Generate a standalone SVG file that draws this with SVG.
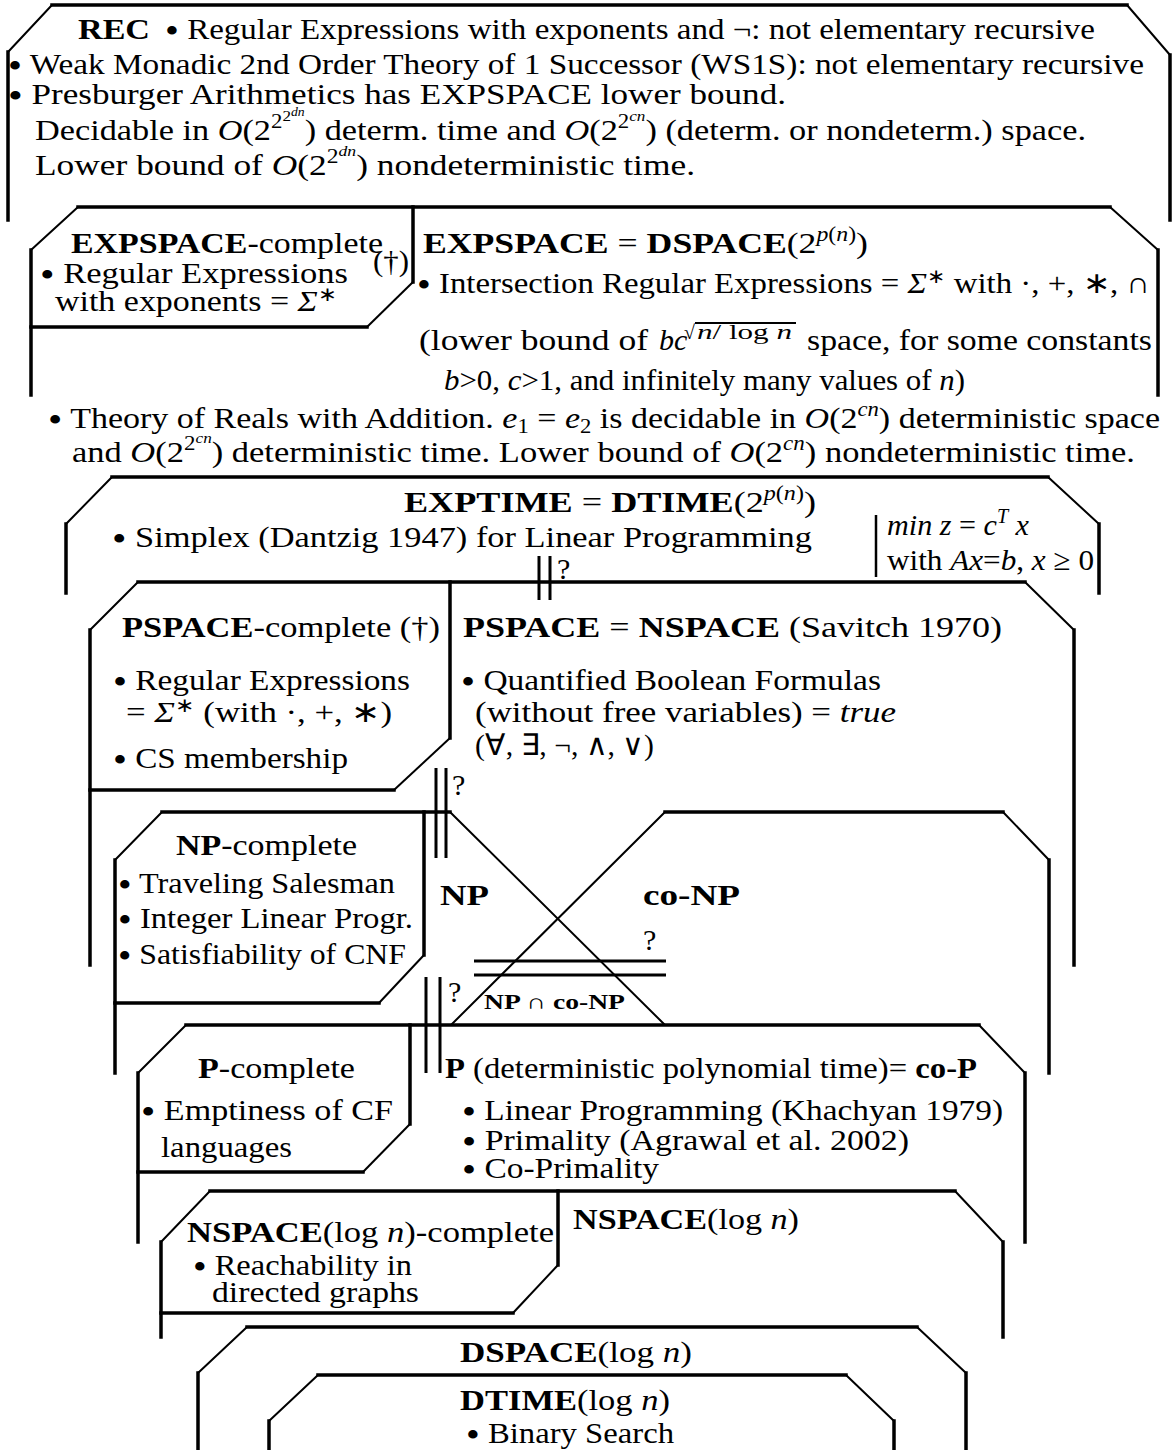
<svg xmlns="http://www.w3.org/2000/svg" width="1174" height="1450" viewBox="0 0 1174 1450">
<style>
text { font-family: "Liberation Serif", "Times New Roman", serif; font-size: 30px; fill: #000; }
.b { font-weight: bold; }
.i { font-style: italic; }
.bu { font-size: 36px; }
.sup { font-size: 20px; }
.sup2 { font-size: 15px; }
.sup3 { font-size: 12px; }
.sm { font-size: 21px; }
.edge { fill: none; stroke: #000; stroke-width: 3.5; stroke-linecap: square; }
.slant { fill: none; stroke: #000; stroke-width: 2; }
.bar { fill: none; stroke: #000; stroke-width: 2.5; }
.q { fill: none; stroke: #000; stroke-width: 3; }
</style>
<rect width="1174" height="1450" fill="#fff"/>

<!-- REC: recursive sets -->
<g id="rec">
  <path class="edge" d="M52,5 H1127 M8,52 V220 M1170,55 V220"/>
  <path class="slant" d="M52,5 L8,52 M1127,5 L1170,55"/>
  <text x="78" y="39" class="b" textLength="72" lengthAdjust="spacingAndGlyphs">REC</text>
  <text x="165" y="39" textLength="930" lengthAdjust="spacingAndGlyphs"><tspan class="bu" dy="4">•</tspan><tspan dy="-4"> Regular Expressions with exponents and ¬: not elementary recursive</tspan></text>
  <text x="8" y="74" textLength="1136" lengthAdjust="spacingAndGlyphs"><tspan class="bu" dy="4">•</tspan><tspan dy="-4"> Weak Monadic 2nd Order Theory of 1 Successor (WS1S): not elementary recursive</tspan></text>
  <text x="8" y="104" textLength="778" lengthAdjust="spacingAndGlyphs"><tspan class="bu" dy="4">•</tspan><tspan dy="-4"> Presburger Arithmetics has EXPSPACE lower bound.</tspan></text>
  <text x="35" y="140" textLength="1051" lengthAdjust="spacingAndGlyphs">Decidable in <tspan class="i">O</tspan>(2<tspan class="sup" dy="-12">2</tspan><tspan class="sup2" dy="-7">2</tspan><tspan class="sup3 i" dy="-5">dn</tspan><tspan dy="24">) determ. time and </tspan><tspan class="i">O</tspan>(2<tspan class="sup" dy="-12">2</tspan><tspan class="sup2 i" dy="-7">cn</tspan><tspan dy="19">) (determ. or nondeterm.) space.</tspan></text>
  <text x="35" y="175" textLength="660" lengthAdjust="spacingAndGlyphs">Lower bound of <tspan class="i">O</tspan>(2<tspan class="sup" dy="-12">2</tspan><tspan class="sup2 i" dy="-7">dn</tspan><tspan dy="19">) nondeterministic time.</tspan></text>
  <text x="48" y="428" textLength="1112" lengthAdjust="spacingAndGlyphs"><tspan class="bu" dy="4">•</tspan><tspan dy="-4"> Theory of Reals with Addition. </tspan><tspan class="i">e</tspan><tspan class="sup" dy="5">1</tspan><tspan dy="-5"> = </tspan><tspan class="i">e</tspan><tspan class="sup" dy="5">2</tspan><tspan dy="-5"> is decidable in </tspan><tspan class="i">O</tspan>(2<tspan class="sup i" dy="-12">cn</tspan><tspan dy="12">) deterministic space</tspan></text>
  <text x="72" y="462" textLength="1063" lengthAdjust="spacingAndGlyphs">and <tspan class="i">O</tspan>(2<tspan class="sup" dy="-12">2</tspan><tspan class="sup2 i" dy="-7">cn</tspan><tspan dy="19">) deterministic time. Lower bound of </tspan><tspan class="i">O</tspan>(2<tspan class="sup i" dy="-12">cn</tspan><tspan dy="12">) nondeterministic time.</tspan></text>
</g>

<!-- EXPSPACE -->
<g id="expspace">
  <path class="edge" d="M78,207 H1110 M31,250 V395 M1158,250 V395"/>
  <path class="slant" d="M78,207 L31,250 M1110,207 L1158,250"/>
  <text x="423" y="253" textLength="445" lengthAdjust="spacingAndGlyphs"><tspan class="b">EXPSPACE</tspan> = <tspan class="b">DSPACE</tspan>(2<tspan class="sup i" dy="-12">p</tspan><tspan class="sup">(</tspan><tspan class="sup i">n</tspan><tspan class="sup">)</tspan><tspan dy="12">)</tspan></text>
  <text x="417" y="293" textLength="733" lengthAdjust="spacingAndGlyphs"><tspan class="bu" dy="4">•</tspan><tspan dy="-4"> Intersection Regular Expressions = </tspan><tspan class="i">Σ</tspan><tspan class="sup" dy="-10">∗</tspan><tspan dy="10"> with ·, +, ∗, ∩</tspan></text>
  <text x="419" y="350" textLength="229" lengthAdjust="spacingAndGlyphs">(lower bound of</text>
  <text x="659" y="350" class="i">b</text>
  <text x="674" y="350" class="i">c</text>
  <text x="684" y="339" class="sup">√</text>
  <path class="slant" d="M695,323 H796" stroke-width="1.5"/>
  <text x="697" y="339" class="sup" textLength="95" lengthAdjust="spacingAndGlyphs"><tspan class="i">n</tspan>/ log <tspan class="i">n</tspan></text>
  <text x="807" y="350" textLength="345" lengthAdjust="spacingAndGlyphs">space, for some constants</text>
  <text x="444" y="390" textLength="521" lengthAdjust="spacingAndGlyphs"><tspan class="i">b</tspan>&gt;0, <tspan class="i">c</tspan>&gt;1, and infinitely many values of <tspan class="i">n</tspan>)</text>
</g>

<!-- EXPSPACE-complete -->
<g id="expspace-complete">
  <path class="edge" d="M413,207 V282 M367,327 H31"/>
  <path class="slant" d="M413,282 L367,327"/>
  <text x="71" y="253" textLength="312" lengthAdjust="spacingAndGlyphs"><tspan class="b">EXPSPACE</tspan>-complete</text>
  <text x="373" y="271" textLength="36" lengthAdjust="spacingAndGlyphs">(†)</text>
  <text x="40" y="283" textLength="308" lengthAdjust="spacingAndGlyphs"><tspan class="bu" dy="4">•</tspan><tspan dy="-4"> Regular Expressions</tspan></text>
  <text x="55" y="311" textLength="282" lengthAdjust="spacingAndGlyphs">with exponents = <tspan class="i">Σ</tspan><tspan class="sup" dy="-10">∗</tspan></text>
</g>

<!-- EXPTIME -->
<g id="exptime">
  <path class="edge" d="M112,477 H1048 M66,524 V593 M1099,524 V593"/>
  <path class="slant" d="M112,477 L66,524 M1048,477 L1099,524"/>
  <path class="bar" d="M876,515 V577"/>
  <text x="404" y="512" textLength="412" lengthAdjust="spacingAndGlyphs"><tspan class="b">EXPTIME</tspan> = <tspan class="b">DTIME</tspan>(2<tspan class="sup i" dy="-12">p</tspan><tspan class="sup">(</tspan><tspan class="sup i">n</tspan><tspan class="sup">)</tspan><tspan dy="12">)</tspan></text>
  <text x="112" y="547" textLength="700" lengthAdjust="spacingAndGlyphs"><tspan class="bu" dy="4">•</tspan><tspan dy="-4"> Simplex (Dantzig 1947) for Linear Programming</tspan></text>
  <text x="887" y="535" textLength="142" lengthAdjust="spacingAndGlyphs"><tspan class="i">min z</tspan> = <tspan class="i">c</tspan><tspan class="sup i" dy="-12">T</tspan><tspan class="i" dy="12"> x</tspan></text>
  <text x="887" y="570" textLength="207" lengthAdjust="spacingAndGlyphs">with <tspan class="i">Ax</tspan>=<tspan class="i">b</tspan>, <tspan class="i">x</tspan> ≥ 0</text>
</g>

<!-- PSPACE -->
<g id="pspace">
  <path class="edge" d="M138,582 H1025 M90,630 V965 M1074,630 V965"/>
  <path class="slant" d="M138,582 L90,630 M1025,582 L1074,630"/>
  <text x="463" y="637" textLength="539" lengthAdjust="spacingAndGlyphs"><tspan class="b">PSPACE</tspan> = <tspan class="b">NSPACE</tspan> (Savitch 1970)</text>
  <text x="461" y="690" textLength="420" lengthAdjust="spacingAndGlyphs"><tspan class="bu" dy="4">•</tspan><tspan dy="-4"> Quantified Boolean Formulas</tspan></text>
  <text x="475" y="722" textLength="421" lengthAdjust="spacingAndGlyphs">(without free variables) = <tspan class="i">true</tspan></text>
  <text x="475" y="755" textLength="179" lengthAdjust="spacingAndGlyphs">(∀, ∃, ¬, ∧, ∨)</text>
</g>

<!-- PSPACE-complete -->
<g id="pspace-complete">
  <path class="edge" d="M450,582 V738 M394,790 H90"/>
  <path class="slant" d="M450,738 L394,790"/>
  <text x="122" y="637" textLength="318" lengthAdjust="spacingAndGlyphs"><tspan class="b">PSPACE</tspan>-complete (†)</text>
  <text x="113" y="690" textLength="297" lengthAdjust="spacingAndGlyphs"><tspan class="bu" dy="4">•</tspan><tspan dy="-4"> Regular Expressions</tspan></text>
  <text x="126" y="722" textLength="266" lengthAdjust="spacingAndGlyphs">= <tspan class="i">Σ</tspan><tspan class="sup" dy="-10">∗</tspan><tspan dy="10"> (with ·, +, ∗)</tspan></text>
  <text x="113" y="768" textLength="235" lengthAdjust="spacingAndGlyphs"><tspan class="bu" dy="4">•</tspan><tspan dy="-4"> CS membership</tspan></text>
</g>

<!-- NP -->
<g id="np">
  <path class="edge" d="M162,812 H450 M115,860 V1073"/>
  <path class="slant" d="M162,812 L115,860 M450,812 L665,1025"/>
  <text x="440" y="905" class="b" textLength="49" lengthAdjust="spacingAndGlyphs">NP</text>
</g>

<!-- NP-complete -->
<g id="np-complete">
  <path class="edge" d="M424,812 V955 M379,1003 H115"/>
  <path class="slant" d="M424,955 L379,1003"/>
  <text x="176" y="855" textLength="181" lengthAdjust="spacingAndGlyphs"><tspan class="b">NP</tspan>-complete</text>
  <text x="118" y="893" textLength="277" lengthAdjust="spacingAndGlyphs"><tspan class="bu" dy="4">•</tspan><tspan dy="-4"> Traveling Salesman</tspan></text>
  <text x="118" y="928" textLength="295" lengthAdjust="spacingAndGlyphs"><tspan class="bu" dy="4">•</tspan><tspan dy="-4"> Integer Linear Progr.</tspan></text>
  <text x="118" y="964" textLength="288" lengthAdjust="spacingAndGlyphs"><tspan class="bu" dy="4">•</tspan><tspan dy="-4"> Satisfiability of CNF</tspan></text>
</g>

<!-- co-NP -->
<g id="conp">
  <path class="edge" d="M665,812 H1003 M1049,860 V1073"/>
  <path class="slant" d="M665,812 L451,1025 M1003,812 L1049,860"/>
  <text x="643" y="905" class="b" textLength="97" lengthAdjust="spacingAndGlyphs">co-NP</text>
</g>

<!-- NP ∩ co-NP -->
<g id="np-conp">
  <text x="484" y="1009" class="b sm" textLength="141" lengthAdjust="spacingAndGlyphs">NP ∩ co-NP</text>
</g>

<!-- P -->
<g id="p">
  <path class="edge" d="M186,1025 H979 M138,1073 V1242 M1025,1073 V1242"/>
  <path class="slant" d="M186,1025 L138,1073 M979,1025 L1025,1073"/>
  <text x="445" y="1078" textLength="532" lengthAdjust="spacingAndGlyphs"><tspan class="b">P</tspan> (deterministic polynomial time)= <tspan class="b">co-P</tspan></text>
  <text x="462" y="1120" textLength="541" lengthAdjust="spacingAndGlyphs"><tspan class="bu" dy="4">•</tspan><tspan dy="-4"> Linear Programming (Khachyan 1979)</tspan></text>
  <text x="462" y="1150" textLength="447" lengthAdjust="spacingAndGlyphs"><tspan class="bu" dy="4">•</tspan><tspan dy="-4"> Primality (Agrawal et al. 2002)</tspan></text>
  <text x="462" y="1178" textLength="197" lengthAdjust="spacingAndGlyphs"><tspan class="bu" dy="4">•</tspan><tspan dy="-4"> Co-Primality</tspan></text>
</g>

<!-- P-complete -->
<g id="p-complete">
  <path class="edge" d="M410,1025 V1124 M363,1172 H138"/>
  <path class="slant" d="M410,1124 L363,1172"/>
  <text x="198" y="1078" textLength="157" lengthAdjust="spacingAndGlyphs"><tspan class="b">P</tspan>-complete</text>
  <text x="141" y="1120" textLength="252" lengthAdjust="spacingAndGlyphs"><tspan class="bu" dy="4">•</tspan><tspan dy="-4"> Emptiness of CF</tspan></text>
  <text x="161" y="1157" textLength="131" lengthAdjust="spacingAndGlyphs">languages</text>
</g>

<!-- NSPACE(log n) -->
<g id="nspace">
  <path class="edge" d="M210,1191 H955 M161,1242 V1337 M1003,1242 V1337"/>
  <path class="slant" d="M210,1191 L161,1242 M955,1191 L1003,1242"/>
  <text x="573" y="1229" textLength="226" lengthAdjust="spacingAndGlyphs"><tspan class="b">NSPACE</tspan>(log <tspan class="i">n</tspan>)</text>
</g>

<!-- NSPACE(log n)-complete -->
<g id="nspace-complete">
  <path class="edge" d="M558,1191 V1265 M513,1313 H161"/>
  <path class="slant" d="M558,1265 L513,1313"/>
  <text x="187" y="1242" textLength="367" lengthAdjust="spacingAndGlyphs"><tspan class="b">NSPACE</tspan>(log <tspan class="i">n</tspan>)-complete</text>
  <text x="193" y="1275" textLength="219" lengthAdjust="spacingAndGlyphs"><tspan class="bu" dy="4">•</tspan><tspan dy="-4"> Reachability in</tspan></text>
  <text x="212" y="1302" textLength="207" lengthAdjust="spacingAndGlyphs">directed graphs</text>
</g>

<!-- DSPACE(log n) -->
<g id="dspace">
  <path class="edge" d="M247,1327 H917 M198,1373 V1450 M966,1373 V1450"/>
  <path class="slant" d="M247,1327 L198,1373 M917,1327 L966,1373"/>
  <text x="460" y="1362" textLength="232" lengthAdjust="spacingAndGlyphs"><tspan class="b">DSPACE</tspan>(log <tspan class="i">n</tspan>)</text>
</g>

<!-- DTIME(log n) -->
<g id="dtime">
  <path class="edge" d="M318,1375 H846 M269,1421 V1450 M894,1421 V1450"/>
  <path class="slant" d="M318,1375 L269,1421 M846,1375 L894,1421"/>
  <text x="460" y="1410" textLength="210" lengthAdjust="spacingAndGlyphs"><tspan class="b">DTIME</tspan>(log <tspan class="i">n</tspan>)</text>
  <text x="466" y="1443" textLength="208" lengthAdjust="spacingAndGlyphs"><tspan class="bu" dy="4">•</tspan><tspan dy="-4"> Binary Search</tspan></text>
</g>

<!-- open inclusion questions: double bars marked "?" -->
<g id="connectors">
  <path class="q" d="M539,556 V600 M550,556 V600"/>
  <text x="557" y="579">?</text>
  <path class="q" d="M436,768 V858 M446,768 V858"/>
  <text x="452" y="795">?</text>
  <path class="q" d="M474,961 H666 M474,975 H666"/>
  <text x="643" y="950">?</text>
  <path class="q" d="M426,977 V1073 M440,977 V1073"/>
  <text x="448" y="1002">?</text>
</g>
</svg>
